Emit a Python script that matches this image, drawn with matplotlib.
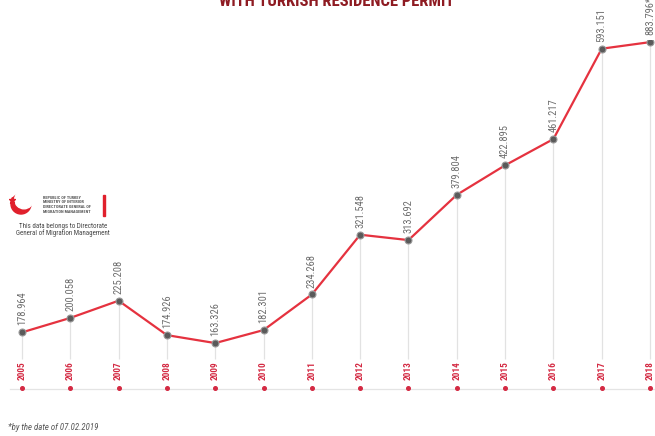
import numpy as np
import matplotlib
matplotlib.use("Agg")
import matplotlib.pyplot as plt
import matplotlib.transforms as mtransforms
from matplotlib.patches import Circle, Rectangle
from matplotlib import font_manager

years = ["2005", "2006", "2007", "2008", "2009", "2010", "2011",
         "2012", "2013", "2014", "2015", "2016", "2017", "2018"]
values = [178964, 200058, 225208, 174926, 163326, 182301, 234268,
          321548, 313692, 379804, 422895, 461217, 593151, 883796]
value_labels = ["178.964", "200.058", "225.208", "174.926", "163.326", "182.301",
                "234.268", "321.548", "313.692", "379.804", "422.895", "461.217",
                "593.151", "883.796*"]
title = "WITH TURKISH RESIDENCE PERMIT"
footnote = "*by the date of 07.02.2019"
logo_lines = ["REPUBLIC OF TURKEY", "MINISTRY OF INTERIOR",
              "DIRECTORATE GENERAL OF", "MIGRATION MANAGEMENT"]
source_lines = ["This data belongs to Directorate", "General of Migration Management"]

# pick the narrowest available family
available = {f.name for f in font_manager.fontManager.ttflist}
scale_by_font = [("Liberation Sans Narrow", 1.0), ("DejaVu Sans Condensed", 0.9),
                 ("Roboto Condensed", 0.95), ("Liberation Sans", 0.82),
                 ("DejaVu Sans", 0.72)]
NARROW_NAME, FS = "DejaVu Sans", 0.72
for name, s in scale_by_font:
    if name in available:
        NARROW_NAME, FS = name, s
        break
NARROW = [NARROW_NAME, "DejaVu Sans"]

RED = "#e5323f"
LABEL_RED = "#d42a43"
GRAY_TXT = "#6e6e6e"

# compressed (broken-like) scale for the top of the chart, as in the infographic
T = 593151.0
K = 0.033

def fwd(v):
    v = np.asarray(v, dtype=float)
    return np.where(v <= T, v, T + (v - T) * K)

def inv(t):
    t = np.asarray(t, dtype=float)
    return np.where(t <= T, t, T + (t - T) / K)

W, H = 655, 436
fig = plt.figure(figsize=(W / 100, H / 100), dpi=100)
ax = fig.add_axes([0.0, 0.0351, 1.0, 0.8743])
ax.set_yscale("function", functions=(fwd, inv))
x = np.arange(len(years))
ax.set_xlim(-0.455, 13.103)
ax.set_ylim(50000, 1000000)
ax.axis("off")

# vertical guide lines
ax.vlines(x, 140000, values, colors="#e2e2e2", linewidth=0.9, zorder=1)
# main line
ax.plot(x, values, color=RED, linewidth=1.6, zorder=2, solid_capstyle="round")
ax.plot(x, values, linestyle="none", marker="o", markersize=5,
        markerfacecolor="#5a5a5a", markeredgecolor="#9a9a9a",
        markeredgewidth=0.8, zorder=3)

for xi, v, lab in zip(x, values, value_labels):
    ax.annotate(lab, (xi, v), xytext=(0, 5), textcoords="offset points",
                rotation=90, ha="center", va="bottom", fontsize=8 * FS,
                color=GRAY_TXT, family=NARROW, zorder=4)

blend = mtransforms.blended_transform_factory(ax.transData, fig.transFigure)
for xi, yr in zip(x, years):
    ax.text(xi, 1 - 371 / H, yr, transform=blend, rotation=90, ha="center",
            va="center", fontsize=7 * FS, fontweight="bold", color=LABEL_RED,
            family=NARROW)
ax.plot(x, np.full(len(x), 1 - 388 / H), transform=blend, linestyle="none",
        marker="o", markersize=2.6, color=LABEL_RED, zorder=3)

# overlay in pixel coordinates for decorations
ov = fig.add_axes([0, 0, 1, 1], zorder=-1)
ov.set_xlim(0, W)
ov.set_ylim(H, 0)
ov.axis("off")
ov.plot([10, W], [389, 389], color="#e4e4e4", linewidth=0.9)

# title (cut off at top as in reference)
fig.text(337 / W, 1 - 6 / H, title, ha="center", va="baseline",
         fontsize=12.5 * FS, fontweight="bold", color="#8e1b22", family=NARROW)

# logo
ov.add_patch(Circle((21, 204), 10, color="#e0202c", zorder=2))
ov.add_patch(Circle((24, 199.5), 9.3, color="white", zorder=3))
ov.plot([12], [200], marker="*", markersize=5, color="#e0202c", zorder=4)
for i, line in enumerate(logo_lines):
    ov.text(43, 197.5 + i * 4.8, line, fontsize=3.2 * FS, fontweight="bold",
            color="#555555", va="center", ha="left", family=NARROW)
ov.add_patch(Rectangle((103, 195), 2.2, 21, color="#e0202c"))
for i, line in enumerate(source_lines):
    ov.text(63, 226 + i * 7.5, line, fontsize=5.2 * FS, color="#444444",
            va="center", ha="center", family=NARROW)

fig.text(8 / W, 1 - 427 / H, footnote, ha="left", va="center",
         fontsize=6.6 * FS, color="#555555", family=NARROW, style="italic")

fig.savefig("out.png", dpi=100)
